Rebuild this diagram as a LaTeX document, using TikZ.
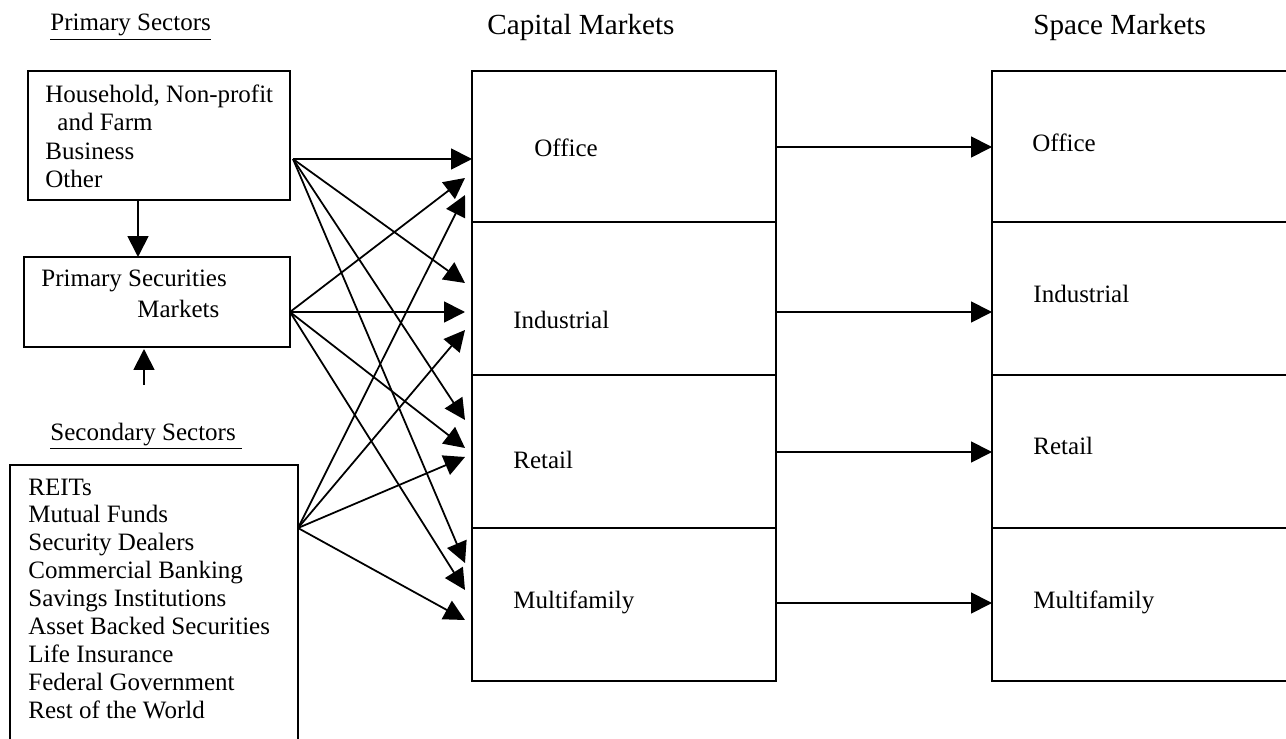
\documentclass[tikz,border=0pt]{standalone}
\usepackage{fontspec}
\setmainfont{Liberation Serif}
\usetikzlibrary{arrows.meta,calc}
\newcommand{\pxbox}[6][]{%
  \node[boxline,#1,anchor=north west,minimum width={(#5-#3)*0.48pt},minimum height={(#6-#4)*0.48pt}] (#2) at (#3,#4) {};}
\begin{document}
\begin{tikzpicture}[x=0.48pt,y=-0.48pt,
  boxline/.style={draw,line width=1.1pt,inner sep=0pt,outer sep=0pt},
  txt/.style={anchor=base west,inner sep=0pt,font=\fontsize{12}{14}\selectfont},
  ttl/.style={anchor=base west,inner sep=0pt,font=\fontsize{14}{16}\selectfont},
  arr/.style={line width=0.85pt,-{Triangle[length=10pt,width=10pt]}}]
\useasboundingbox (0,0) rectangle (1286,739);
% titles
\node[txt] (pst) at (50,31) {\underline{Primary Sectors}};
\node[ttl] (cmt) at (487,35) {Capital Markets};
\node[ttl] (smt) at (1033,35) {Space Markets};
\node[txt] (sst) at (50,440) {\underline{Secondary Sectors\ }};
% left boxes
\pxbox{hh}{28}{71}{290}{200}
\node[txt] (hh1) at (45,103) {Household, Non-profit};
\node[txt] (hh2) at (57,131) {and Farm};
\node[txt] (hh3) at (45,160) {Business};
\node[txt] (hh4) at (45,188) {Other};
\pxbox{ps}{24}{257}{290}{347}
\node[txt] (ps1) at (41,287) {Primary Securities};
\node[txt] (ps2) at (137,318) {Markets};
\pxbox{ss}{10}{465}{298}{760}
\foreach \t [count=\i] in {REITs,Mutual Funds,Security Dealers,Commercial Banking,Savings Institutions,Asset Backed Securities,Life Insurance,Federal Government,Rest of the World}
  \node[txt] (ss\i) at (28,{495+27.9*(\i-1)}) {\t};
% capital markets cells
\pxbox{c1}{472}{71}{776}{222}
\pxbox{c2}{472}{222}{776}{375}
\pxbox{c3}{472}{375}{776}{528}
\pxbox{c4}{472}{528}{776}{681}
\node[txt] (c1t) at (534,157) {Office};
\node[txt] (c2t) at (513,329) {Industrial};
\node[txt] (c3t) at (513,468) {Retail};
\node[txt] (c4t) at (513,608) {Multifamily};
% space markets cells
\pxbox{m1}{992}{71}{1300}{222}
\pxbox{m2}{992}{222}{1300}{375}
\pxbox{m3}{992}{375}{1300}{528}
\pxbox{m4}{992}{528}{1300}{681}
\node[txt] (m1t) at (1032,152) {Office};
\node[txt] (m2t) at (1033,303) {Industrial};
\node[txt] (m3t) at (1033,454) {Retail};
\node[txt] (m4t) at (1033,608) {Multifamily};
% vertical arrows
\draw[arr] (hh.south -| 138,0) -- (ps.north -| 138,0);
\coordinate (up) at (144,385);
\draw[arr] (up) -- (144,349);
% sources
\coordinate (s1) at (293,159);
\coordinate (s2) at (290,312);
\coordinate (s3) at (298,528);
% targets
\coordinate (t1a) at (472,159);
\coordinate (t1b) at (465,283);
\coordinate (t1c) at (465,420);
\coordinate (t1d) at (465,563);
\coordinate (t2a) at (465,178);
\coordinate (t2b) at (465,312);
\coordinate (t2c) at (465,448);
\coordinate (t2d) at (465,590);
\coordinate (t3a) at (465,195);
\coordinate (t3b) at (465,330);
\coordinate (t3c) at (465,457);
\coordinate (t3d) at (465,620);
\foreach \s in {1,2,3}
  \foreach \t in {a,b,c,d}
    \draw[arr] (s\s) -- (t\s\t);
% capital -> space
\draw[arr] (c1.east |- 0,147) -- (m1.west |- 0,147);
\draw[arr] (c2.east |- 0,312) -- (m2.west |- 0,312);
\draw[arr] (c3.east |- 0,452) -- (m3.west |- 0,452);
\draw[arr] (c4.east |- 0,603) -- (m4.west |- 0,603);
\end{tikzpicture}
\end{document}
